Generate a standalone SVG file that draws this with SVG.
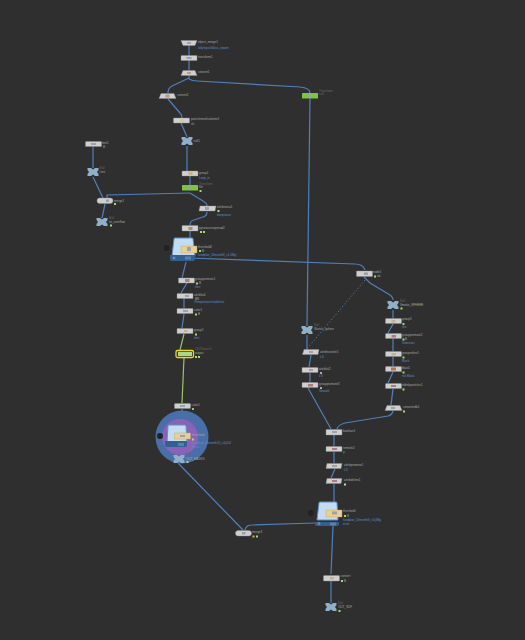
<svg xmlns="http://www.w3.org/2000/svg" width="525" height="640" viewBox="0 0 525 640">
<style>
text{font-family:"Liberation Sans",Arial,sans-serif;font-size:3px;fill:#a8a8a8}
text.b{fill:#5f8fc8}
text.d{fill:#666}
.n{fill:#cfcfcf;stroke:#8f8f8f;stroke-width:.4}
.c path{fill:none;stroke:#4f80bd;stroke-width:1.2}
.c path.g{stroke:#9cc36a}
.c path.t{stroke-dasharray:1.2 2.2;stroke-width:1}
.x{fill:#8fb0c8}
.i{fill:#a0a0a8}
.o{fill:#e8cf93;stroke:#bfa568;stroke-width:.4}
.bs{fill:#c4dcef;stroke:#5f8fc8;stroke-width:1}
.bb{fill:#33608f}
.k{fill:#222}
.p{fill:#9fe060}
</style>
<defs>
<path id="X" d="M-5.500-4H-2L0-2.500L2-4H5.500V-2L4 0L5.500 2V4H2L0 2.500L-2 4H-5.500V2L-4 0L-5.500-2Z"/>
</defs>
<rect width="525" height="640" fill="#2f2f2f"/>
<g class="c">
<path d="M189 45V70M189 76V79"/>
<path d="M189 78L172 86Q168 88 168 93"/>
<path d="M168 99L180 113Q182 115 182 118"/>
<path d="M181 123L187 137"/>
<path d="M187 146V171"/>
<path d="M190 176V185"/>
<path d="M189 79Q192 81 197 81L300 87Q310 88 310 93"/>
<path d="M310 98L307 326"/>
<path d="M307 335V350"/>
<path d="M93 147V168"/>
<path d="M93 177L103 198"/>
<path d="M190 193L107 195Q107 196 107 198"/>
<path d="M190 193L203 201Q207 203 207 206"/>
<path d="M207 212Q207 216 203 217L194 220Q190 221 190 225"/>
<path d="M105 204L102 218"/>
<path d="M190 231V247"/>
<path d="M186 262L182 278"/>
<path d="M188 258L355 264Q363 264 365 270"/>
<path d="M187 283L181 293"/>
<path d="M184 298V308"/>
<path d="M184 314L182 328"/>
<path class="g" d="M184 334L180 350"/>
<path class="g" d="M184 358L182 403"/>
<path d="M182 409V436"/>
<path d="M178 463L243 530"/>
<path d="M364 277L370 283L390 295Q393 297 393 300"/>
<path class="t" d="M365 280L306 350"/>
<path d="M393 310V318"/>
<path d="M393 324L388 333"/>
<path d="M393 339V351"/>
<path d="M393 357V366"/>
<path d="M393 372L388 383"/>
<path d="M393 389L391 405"/>
<path d="M393 411Q392 415 388 416L345 423Q338 425 337 429"/>
<path d="M311 355L309 367"/>
<path d="M310 373V382"/>
<path d="M308 388L331 429"/>
<path d="M334 435V446"/>
<path d="M334 452V463"/>
<path d="M335 469L331 478"/>
<path d="M334 484V510"/>
<path d="M333 526L331 574"/>
<path d="M331 581V603"/>
<path d="M315 523L252 525Q246 525 245 530"/>
</g>
<g id="object_merge1"><path class="n" d="M181 40.500H197L195 45.500H183Z"/><rect class="i" x="187" y="42" width="4" height="2"/><text x="198" y="43">object_merge1</text><text class="b" x="198" y="49">/obj/input/Gloss_import</text></g>
<g id="transform1"><rect class="n" x="181" y="55.500" width="16" height="5" rx=".6"/><rect class="i" x="186.500" y="57" width="5" height="2"/><text x="198" y="58">transform1</text></g>
<g id="convert1"><path class="n" d="M183 70.500H195L197 75.500H181Z"/><rect fill="#c09a80" x="187" y="72" width="4" height="2"/><text x="198" y="73">convert1</text></g>
<g id="convert2"><path class="n" d="M161 93.500H174L176 98.500H159Z"/><rect fill="#c09a80" x="165.500" y="94.500" width="4" height="3"/><text x="177" y="96">convert2</text></g>
<g id="particlemeshvolume1"><rect class="n" x="173.500" y="118" width="16" height="5" rx=".6"/><rect fill="#d8cc90" x="180" y="119" width="4" height="3"/><text x="191" y="120">particlemeshvolume1</text><text x="191" y="125">sh</text></g>
<g id="null1"><use href="#X" class="x" x="187" y="141"/><text x="193.500" y="142">null1</text></g>
<g id="green_r"><rect fill="#7ac83a" x="302" y="93" width="16" height="5.500" rx=".5"/><rect class="i" x="308" y="94.500" width="4" height="2.500"/><text class="d" x="319" y="92">Transform</text><text class="d" x="319" y="95">null</text></g>
<g id="group1"><rect class="n" x="182" y="171" width="16" height="5" rx=".6"/><rect fill="#d8b080" x="188.500" y="172" width="4" height="3"/><text x="199" y="174">group1</text><text class="b" x="199" y="179">Loop_in</text></g>
<g id="file1"><rect fill="#7ac83a" x="182" y="185" width="16" height="5.500" rx=".5"/><rect class="i" x="188" y="187" width="4" height="2"/><text class="d" x="199" y="185">Transform</text><text x="199" y="188">file</text><rect class="p" x="199.500" y="190" width="2" height="2"/></g>
<g id="font1"><rect class="n" x="85.500" y="141.500" width="16" height="5" rx=".6"/><rect class="i" x="91" y="143" width="5" height="2"/><text x="102" y="144">font1</text><text x="103" y="148">B</text></g>
<g id="line"><use href="#X" class="x" x="93" y="172"/><text class="d" x="99.500" y="169">Null</text><text x="99.500" y="173">Line</text></g>
<g id="merge1"><rect class="n" x="97" y="198" width="16" height="5.500" rx="2.700"/><rect class="i" x="106" y="199.500" width="3" height="2.500"/><text x="114" y="202">merge1</text><rect class="p" x="114" y="203" width="2" height="2"/></g>
<g id="txt_overflow"><use href="#X" class="x" x="102" y="222"/><text class="d" x="109" y="219">Null</text><text x="109" y="223">txt_overflow</text><rect class="p" x="110" y="224.500" width="2" height="2"/></g>
<g id="attribnoise1"><path class="n" d="M200 206H216L215 211H199Z"/><rect class="i" x="205" y="207" width="4" height="3"/><text x="217" y="208">attribnoise1</text><rect class="p" x="217.500" y="210" width="2" height="2"/><text class="b" x="217" y="216">deepnoise</text></g>
<g id="groupcopy"><rect class="n" x="182" y="225.500" width="16" height="5.500" rx=".6"/><rect fill="#b98a5a" x="188.500" y="227" width="4" height="3"/><text x="199" y="229">pyrosourcespread2</text><rect class="p" x="200" y="231" width="2" height="2"/><rect class="p" x="203" y="231" width="2" height="2"/></g>
<g id="threshold2"><path class="bs" d="M172 256L174 239Q174 238 175 238H192Q193 238 193 239L195 256Z"/><path class="bb" d="M170 255H195V259Q195 261 193 261H172Q170 261 170 259Z"/><circle class="k" cx="166.500" cy="248" r="3"/><circle fill="none" stroke="#cfe0ef" stroke-width=".4" cx="174" cy="258" r="1"/><path stroke="#cfe0ef" stroke-width=".5" d="M186 256.500V259.500M188 256.500V259.500M190 256.500V259.500"/><rect class="o" x="181" y="246" width="16" height="7"/><rect class="i" x="187" y="247" width="4" height="4"/><text x="198" y="248">threshold2</text><rect class="p" x="199" y="250" width="2" height="2"/><text x="202" y="252">B</text><text class="b" x="198" y="255.500">fundplan_Ulmsmth8_v1.0Mg</text></g>
<g id="grouppromote1"><rect class="n" x="178.500" y="278" width="16" height="5" rx=".6"/><rect fill="#b07a7a" x="185" y="279" width="4.500" height="3"/><text x="195" y="280">grouppromote1</text><rect class="p" x="196" y="282.500" width="2" height="2"/><text x="199" y="284">B</text><text class="b" x="195" y="288">limit</text></g>
<g id="attribfui"><rect class="n" x="177" y="293.500" width="16" height="5" rx=".6"/><rect class="i" x="185" y="295" width="4" height="2"/><text x="194" y="296">attribfui4</text><text x="195" y="300">BB</text><text class="b" x="194" y="303">/Temperature/stabilizer</text></g>
<g id="nodel"><rect class="n" x="177" y="308.500" width="16" height="5" rx=".6"/><rect class="i" x="183" y="310" width="5" height="2"/><text x="194" y="311">color1</text><rect class="p" x="195" y="313.500" width="2" height="2"/><text x="198" y="315">B</text></g>
<g id="group2"><rect class="n" x="177" y="328.500" width="16" height="5" rx=".6"/><rect fill="#d0b080" x="184" y="330" width="3.500" height="2"/><text x="194" y="331">group2</text><rect class="p" x="195" y="333.500" width="2" height="2"/><text class="b" x="194" y="339">limit</text></g>
<g id="output"><rect fill="none" stroke="#f0dc10" stroke-width="1.300" x="176" y="350.500" width="17.500" height="7" rx="1.500"/><rect fill="#a8d890" x="178" y="352" width="14" height="4"/><text class="d" x="195" y="350">OUT/branch</text><text x="195" y="353.500">output</text><rect class="p" x="195" y="356" width="2" height="2"/><rect class="p" x="198" y="356" width="2" height="2"/></g>
<g id="color2"><rect class="n" x="174.500" y="403.500" width="16" height="5" rx=".6"/><rect class="i" x="180" y="405" width="5" height="2"/><text x="191.500" y="406">color2</text><rect fill="#aaa" x="192" y="408" width="2" height="2"/></g>
<g id="threshold3"><circle cx="182" cy="437" r="26.500" fill="#4a6ea8"/><circle cx="180" cy="437" r="18" fill="#8a62b8"/><path class="bs" d="M167 442L168 426Q168 425 169 425H185Q186 425 186 426L187 442Z"/><path class="bb" d="M165 441H187V445Q187 447 185 447H167Q165 447 165 445Z"/><circle class="k" cx="160" cy="436" r="3"/><path stroke="#cfe0ef" stroke-width=".5" d="M179 443V446M181 443V446M183 443V446"/><rect class="o" x="174.500" y="433" width="16" height="6"/><rect class="i" x="180" y="435" width="5" height="2"/><text x="192" y="436">threshold</text><rect class="p" x="192" y="438.500" width="2" height="2"/><text class="b" x="192" y="444">fundplan_Ulmsmth20_v1j004</text><text class="b" x="192" y="448">mask</text></g>
<g id="out_MASKS"><use href="#X" class="x" x="179" y="459"/><text class="d" x="186" y="455">Null</text><text x="186" y="459.500">OUT_MASKS</text><rect class="p" x="186.500" y="461" width="2" height="2"/></g>
<g id="node_r"><rect class="n" x="356.500" y="271" width="16" height="5.500" rx=".6"/><rect class="i" x="364" y="272.500" width="4" height="2.500"/><text x="373" y="273">node1</text><rect class="p" x="374" y="275.500" width="2" height="2"/><text x="377" y="277">ab</text></g>
<g id="timer_SPHERE"><use href="#X" class="x" x="393" y="305"/><text class="d" x="400" y="302">Null</text><text x="400" y="306">Smoke_SPHERE</text><rect class="p" x="400.500" y="307.500" width="2" height="2"/></g>
<g id="group3"><rect class="n" x="385.500" y="318.500" width="16" height="5" rx=".6"/><rect fill="#d0b080" x="391.500" y="320" width="4" height="2.500"/><text x="402" y="320">group3</text><rect class="p" x="402.500" y="323" width="2" height="2"/><text class="b" x="402" y="328">line</text></g>
<g id="grouppromote2"><rect class="n" x="385.500" y="333.500" width="16" height="5" rx=".6"/><rect fill="#b07a7a" x="391.500" y="335" width="4.500" height="2.500"/><text x="402" y="336">grouppromote2</text><rect class="p" x="402.500" y="338.500" width="2" height="2"/><text x="405" y="340">B</text><text class="b" x="402" y="344">Substract</text></g>
<g id="grouprefine1"><rect class="n" x="385.500" y="351.500" width="16" height="5" rx=".6"/><rect fill="#d0b080" x="391.500" y="353" width="4.500" height="2.500"/><text x="402" y="354">grouprefine1</text><rect class="p" x="402.500" y="356.500" width="2" height="2"/><text class="b" x="402" y="362">Block</text></g>
<g id="blast1"><rect class="n" x="385.500" y="366.500" width="16" height="5" rx=".6"/><rect fill="#b9734a" x="391" y="367.500" width="5" height="3"/><text x="402" y="369">blast1</text><rect class="p" x="402.500" y="371.500" width="2" height="2"/><text class="b" x="402" y="377">not Block</text></g>
<g id="oldinkparticles"><rect class="n" x="385.500" y="383.500" width="16" height="5" rx=".6"/><rect fill="#b07a7a" x="391" y="385" width="5" height="2"/><text x="402" y="386">oldinkparticles1</text><rect class="p" x="402.500" y="388.500" width="2" height="2"/></g>
<g id="convert4"><path class="n" d="M387 405.500H400L402 410.500H385Z"/><rect class="i" x="391" y="407" width="4" height="2"/><text x="403" y="408">convertvdb1</text><rect class="p" x="403" y="410.500" width="2" height="2"/></g>
<g id="hanlon_null"><use href="#X" class="x" x="307" y="330"/><text class="d" x="314" y="326">Null</text><text x="314" y="330">Sketch_sphere</text></g>
<g id="attribwrangle1"><path class="n" d="M304 349.500H319L318 354.500H302.500Z"/><rect class="i" x="309" y="351" width="4" height="2"/><text x="320" y="353">attribtransfer1</text><text class="b" x="320" y="358">LS</text></g>
<g id="attribfui2"><rect class="n" x="302" y="367.500" width="16" height="5" rx=".6"/><rect class="i" x="309" y="369" width="4" height="2"/><text x="319" y="370">attribfui2</text><rect fill="#aaa" x="320" y="372" width="2" height="2"/><text class="b" x="319" y="377">LS</text></g>
<g id="grouppromote3"><rect class="n" x="302" y="382.500" width="16" height="5" rx=".6"/><rect fill="#b07a7a" x="308" y="384" width="5" height="2.500"/><text x="319" y="385">grouppromote3</text><rect fill="#aaa" x="320" y="387" width="2" height="2"/><text class="b" x="319" y="392">Smooth</text></g>
<g id="headout"><rect class="n" x="326" y="429.500" width="16" height="5.500" rx=".6"/><rect class="i" x="332" y="431" width="5" height="2"/><text x="343" y="432">boolean1</text></g>
<g id="resamp"><rect class="n" x="326" y="446.500" width="16" height="5" rx=".6"/><rect fill="#b07a7a" x="332" y="448" width="5" height="2"/><text x="343" y="449">remesh2</text><text class="b" x="343" y="454">P</text></g>
<g id="attribpromote1"><path class="n" d="M327 463.500H342L341 468.500H326Z"/><rect class="i" x="332" y="465" width="5" height="2"/><text x="344" y="466">attribpromote1</text><text class="b" x="344" y="471">LS</text></g>
<g id="attribdelete1"><path class="n" d="M327 478.500H342L341 483.500H326Z"/><rect fill="#b07a7a" x="332" y="480" width="5" height="2"/><text x="344" y="481">attribdelete1</text><rect fill="#ccc" x="344" y="483.500" width="2" height="2"/></g>
<g id="threshold1"><path class="bs" d="M317 520L319 503Q319 502 320 502H336Q337 502 337 503L338 520Z"/><path class="bb" d="M315 522H339V524Q339 526 337 526H317Q315 526 315 524Z"/><circle class="k" cx="311" cy="513" r="3"/><circle fill="none" stroke="#cfe0ef" stroke-width=".4" cx="319" cy="523.500" r="1"/><path stroke="#cfe0ef" stroke-width=".5" d="M331 522.500V525.500M333 522.500V525.500M335 522.500V525.500"/><rect class="o" x="326" y="510" width="16" height="7"/><rect class="i" x="332" y="511.500" width="5" height="3"/><text x="343" y="512">threshold</text><rect class="p" x="344" y="515" width="2" height="2"/><text x="347" y="517">B</text><text class="b" x="343" y="520.500">fundplan_Ulmsmth8_v1j0Mg</text><text class="b" x="343" y="525">error</text></g>
<g id="merge3"><rect class="n" x="235.500" y="530.500" width="16" height="5.500" rx="2.700"/><rect class="i" x="242" y="532" width="3.500" height="2.500"/><text x="252" y="533">merge3</text><rect fill="#e8b020" x="252.500" y="535.500" width="2" height="2"/><rect class="p" x="256" y="535.500" width="2" height="2"/></g>
<g id="pyro_src"><rect class="n" x="323.500" y="575.500" width="16" height="5.500" rx=".6"/><rect fill="#d0b080" x="330" y="577" width="4" height="2.500"/><text x="340.500" y="577">convert</text><rect class="p" x="341" y="580" width="2" height="2"/><text x="344" y="582">B</text></g>
<g id="out_sdf"><use href="#X" class="x" x="331" y="607"/><text class="d" x="338" y="604">Null</text><text x="338" y="608">OUT_SDF</text><rect class="p" x="338.500" y="610" width="2" height="2"/></g>
</svg>
